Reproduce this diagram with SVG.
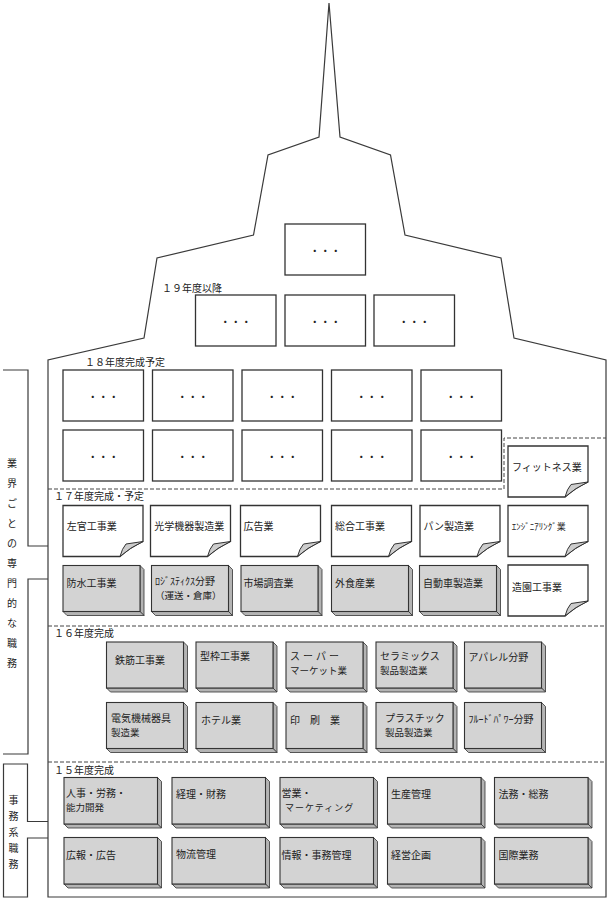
<svg xmlns="http://www.w3.org/2000/svg" xmlns:xlink="http://www.w3.org/1999/xlink" width="609" height="900" viewBox="0 0 609 900">
<style>
.ol{fill:none;stroke:#3a3a3a;stroke-width:1.2;stroke-linejoin:miter}
.bx{fill:#fff;stroke:#333;stroke-width:1.3}
.dash{fill:none;stroke:#444;stroke-width:1;stroke-dasharray:4 2}
.ff{fill:#d3d3d3;stroke:#333;stroke-width:1.1}
.sd{fill:#b4b4b4;stroke:#333;stroke-width:0.8;stroke-linejoin:round}
.fold{fill:#cdcdcd;stroke:#333;stroke-width:1}
text{font-family:"Noto Sans CJK JP","Noto Sans CJK SC",sans-serif;font-size:10px;fill:#222}
.dots{text-anchor:middle;font-size:10.5px}
.vt{text-anchor:middle;font-size:10px}
.sm{font-size:9px}
.l2{font-size:9.5px}
</style>
<defs>
<g id="plain"><rect class="bx" x="0" y="0" width="80.5" height="51"/><text class="dots" x="40.25" y="30.5">・・・</text></g>
<g id="note"><path class="bx" d="M0,0 H80 V36 Q67,42 57,51 H0 Z"/><path class="fold" d="M57,51 Q59,43 63,38.5 L80,36 Q67,42 57,51 Z"/></g>
<g id="b77"><path class="sd" d="M77,0 L81,4 V50 L77,46 Z"/><path class="sd" d="M0,46 H77 L81,50 H4 Z"/><rect class="ff" x="0" y="0" width="77" height="46"/></g>
<g id="b93"><path class="sd" d="M93.5,0 L97.5,4 V50.5 L93.5,46.5 Z"/><path class="sd" d="M0,46.5 H93.5 L97.5,50.5 H4 Z"/><rect class="ff" x="0" y="0" width="93.5" height="46.5"/></g>
</defs>
<rect width="609" height="900" fill="#fff"/>

<g id="building">
<path class="ol" d="M48,897 L48,360 L144,338 L157,258 L253.5,235 L268,155 L319,137 L329,3 L340,137 L390.5,155 L405,235 L501,258 L514,338 L606,360 L606,897 Z"/>
<path class="dash" d="M48,489 H504 V438 H606"/>
<path class="dash" d="M48,626 H606"/>
<path class="dash" d="M48,762 H606"/>
</g>

<g id="connectors">
<path class="ol" d="M3,370 H28 V546 H48 M48,579 H28 V754 H3"/>
<path class="ol" d="M48,821.5 H27.5 V764 H3.5 V897 H27.5 V838 H48"/>
</g>

<g id="labels">
<text id="label-senmon" class="vt"><tspan x="12" y="466.5">業</tspan><tspan x="12" y="486.5">界</tspan><tspan x="12" y="506.5">ご</tspan><tspan x="12" y="526.5">と</tspan><tspan x="12" y="546.5">の</tspan><tspan x="12" y="566.5">専</tspan><tspan x="12" y="586.5">門</tspan><tspan x="12" y="606.5">的</tspan><tspan x="12" y="626.5">な</tspan><tspan x="12" y="646.5">職</tspan><tspan x="12" y="666.5">務</tspan></text>
<text id="label-jimu" class="vt"><tspan x="13.5" y="803.5">事</tspan><tspan x="13.5" y="819.5">務</tspan><tspan x="13.5" y="835.5">系</tspan><tspan x="13.5" y="851.5">職</tspan><tspan x="13.5" y="867.5">務</tspan></text>
<text x="162" y="292">１９年度以降</text>
<text x="85" y="366">１８年度完成予定</text>
<text x="54" y="500">１７年度完成・予定</text>
<text x="54" y="637">１６年度完成</text>
<text x="54" y="774">１５年度完成</text>
</g>

<g id="tier19">
<g id="n19-top" transform="translate(285,224)"><use xlink:href="#plain"/></g>
<g id="n19-1" transform="translate(195.5,295)"><use xlink:href="#plain"/></g>
<g id="n19-2" transform="translate(285,295)"><use xlink:href="#plain"/></g>
<g id="n19-3" transform="translate(374,295)"><use xlink:href="#plain"/></g>
</g>

<g id="tier18">
<g id="n18-1" transform="translate(63,370)"><use xlink:href="#plain"/></g>
<g id="n18-2" transform="translate(152.5,370)"><use xlink:href="#plain"/></g>
<g id="n18-3" transform="translate(242,370)"><use xlink:href="#plain"/></g>
<g id="n18-4" transform="translate(331.5,370)"><use xlink:href="#plain"/></g>
<g id="n18-5" transform="translate(421,370)"><use xlink:href="#plain"/></g>
<g id="n18-6" transform="translate(63,430)"><use xlink:href="#plain"/></g>
<g id="n18-7" transform="translate(152.5,430)"><use xlink:href="#plain"/></g>
<g id="n18-8" transform="translate(242,430)"><use xlink:href="#plain"/></g>
<g id="n18-9" transform="translate(331.5,430)"><use xlink:href="#plain"/></g>
<g id="n18-10" transform="translate(421,430)"><use xlink:href="#plain"/></g>
<g id="n-fitness" transform="translate(508,446)"><use xlink:href="#note"/><text x="4" y="24.5">フィットネス業</text></g>
</g>

<g id="tier17">
<g id="n-sakan" transform="translate(63,505.5)"><use xlink:href="#note"/><text x="3.7" y="24">左官工事業</text></g>
<g id="n-kogaku" transform="translate(150.5,505.5)"><use xlink:href="#note"/><text x="3.7" y="24">光学機器製造業</text></g>
<g id="n-kokoku" transform="translate(240.5,505.5)"><use xlink:href="#note"/><text x="3" y="24">広告業</text></g>
<g id="n-sogo" transform="translate(331.5,505.5)"><use xlink:href="#note"/><text x="3.5" y="24">総合工事業</text></g>
<g id="n-pan" transform="translate(420,505.5)"><use xlink:href="#note"/><text x="3.5" y="24">パン製造業</text></g>
<g id="n-eng" transform="translate(508,505.5)"><use xlink:href="#note"/><text x="3.7" y="24" class="sm">ｴﾝｼﾞﾆｱﾘﾝｸﾞ業</text></g>
<g id="n-bosui" transform="translate(63,565.5)"><use xlink:href="#b77"/><text x="3.5" y="21.5">防水工事業</text></g>
<g id="n-logi" transform="translate(151.5,565.5)"><use xlink:href="#b77"/><text x="3.5" y="19">ﾛｼﾞｽﾃｨｸｽ分野</text><text x="3.5" y="33" class="l2">（運送・倉庫）</text></g>
<g id="n-shijo" transform="translate(241,565.5)"><use xlink:href="#b77"/><text x="2.5" y="21.5">市場調査業</text></g>
<g id="n-gaishoku" transform="translate(331.5,565.5)"><use xlink:href="#b77"/><text x="3.5" y="21">外食産業</text></g>
<g id="n-jidosha" transform="translate(419.5,565.5)"><use xlink:href="#b77"/><text x="3.5" y="21">自動車製造業</text></g>
<g id="n-zoen" transform="translate(508,565)"><use xlink:href="#note"/><text x="4" y="26">造園工事業</text></g>
</g>

<g id="tier16">
<g id="n-tekkin" transform="translate(106.5,642)"><use xlink:href="#b77"/><text x="8.5" y="21.5">鉄筋工事業</text></g>
<g id="n-katawaku" transform="translate(196,642)"><use xlink:href="#b77"/><text x="4" y="17.5">型枠工事業</text></g>
<g id="n-super" transform="translate(286,642)"><use xlink:href="#b77"/><text x="4" y="17.5" letter-spacing="3">スーパー</text><text x="4" y="31.5" class="l2">マーケット業</text></g>
<g id="n-ceramic" transform="translate(376,642)"><use xlink:href="#b77"/><text x="4" y="18">セラミックス</text><text x="4" y="32" class="l2">製品製造業</text></g>
<g id="n-apparel" transform="translate(464.5,642)"><use xlink:href="#b77"/><text x="4" y="19">アパレル分野</text></g>
<g id="n-denki" transform="translate(106.5,702.5)"><use xlink:href="#b77"/><text x="4.5" y="19.5">電気機械器具</text><text x="4.5" y="33.5" class="l2">製造業</text></g>
<g id="n-hotel" transform="translate(196,702.5)"><use xlink:href="#b77"/><text x="5" y="21.5">ホテル業</text></g>
<g id="n-insatsu" transform="translate(286,702.5)"><use xlink:href="#b77"/><text x="4" y="21.5">印　刷　業</text></g>
<g id="n-plastic" transform="translate(376,702.5)"><use xlink:href="#b77"/><text x="9" y="19.5">プラスチック</text><text x="9" y="33.5" class="l2">製品製造業</text></g>
<g id="n-fluid" transform="translate(464.5,702.5)"><use xlink:href="#b77"/><text x="4" y="20">ﾌﾙｰﾄﾞﾊﾟﾜｰ分野</text></g>
</g>

<g id="tier15">
<g id="n-jinji" transform="translate(64,777.5)"><use xlink:href="#b93"/><text x="2" y="19">人事・労務・</text><text x="2" y="33" class="l2">能力開発</text></g>
<g id="n-keiri" transform="translate(172,777.5)"><use xlink:href="#b93"/><text x="4" y="20">経理・財務</text></g>
<g id="n-eigyo" transform="translate(280,777.5)"><use xlink:href="#b93"/><text x="1.5" y="19.5">営業・</text><text x="5" y="33" class="sm" letter-spacing="1">マーケティング</text></g>
<g id="n-seisan" transform="translate(387.5,777.5)"><use xlink:href="#b93"/><text x="3.5" y="20">生産管理</text></g>
<g id="n-homu" transform="translate(494.5,777.5)"><use xlink:href="#b93"/><text x="4" y="20">法務・総務</text></g>
<g id="n-koho" transform="translate(64,837.5)"><use xlink:href="#b93"/><text x="2" y="21">広報・広告</text></g>
<g id="n-butsuryu" transform="translate(172,837.5)"><use xlink:href="#b93"/><text x="4" y="20.5">物流管理</text></g>
<g id="n-joho" transform="translate(280,837.5)"><use xlink:href="#b93"/><text x="1.5" y="21">情報・事務管理</text></g>
<g id="n-keiei" transform="translate(387.5,837.5)"><use xlink:href="#b93"/><text x="3.5" y="21">経営企画</text></g>
<g id="n-kokusai" transform="translate(494.5,837.5)"><use xlink:href="#b93"/><text x="4" y="21">国際業務</text></g>
</g>
</svg>
